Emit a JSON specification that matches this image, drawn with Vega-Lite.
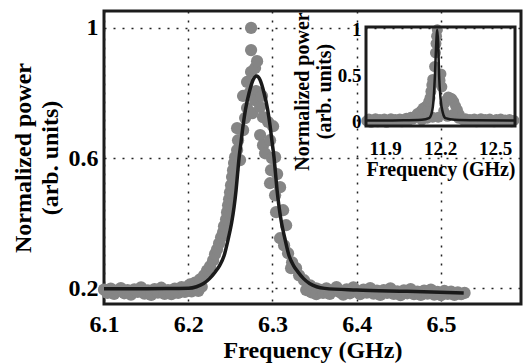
{
  "$schema": "https://vega.github.io/schema/vega-lite/v6.json",
  "width": 417,
  "height": 293,
  "autosize": {"type": "none"},
  "padding": {"left": 104, "top": 11, "right": 3, "bottom": 60},
  "background": "white",
  "config": {
    "view": {"stroke": "#1c1c1c", "strokeWidth": 3},
    "axis": {
      "labelFont": "Liberation Serif",
      "titleFont": "Liberation Serif",
      "labelFontWeight": "bold",
      "titleFontWeight": "bold",
      "labelColor": "#000000",
      "titleColor": "#000000",
      "domain": false,
      "ticks": false,
      "labelFlush": false,
      "labelOverlap": false,
      "grid": true,
      "gridDash": [2, 7],
      "gridColor": "#222222",
      "gridOpacity": 1,
      "gridWidth": 1.5
    }
  },
  "datasets": {
    "main_pts": [
      {"f": 6.100, "p": 0.196}, {"f": 6.104, "p": 0.186}, {"f": 6.108, "p": 0.199}, {"f": 6.112, "p": 0.183},
      {"f": 6.116, "p": 0.193}, {"f": 6.120, "p": 0.201}, {"f": 6.124, "p": 0.185}, {"f": 6.128, "p": 0.195},
      {"f": 6.132, "p": 0.181}, {"f": 6.136, "p": 0.197}, {"f": 6.140, "p": 0.189}, {"f": 6.144, "p": 0.203},
      {"f": 6.148, "p": 0.184}, {"f": 6.152, "p": 0.194}, {"f": 6.156, "p": 0.180}, {"f": 6.160, "p": 0.198},
      {"f": 6.164, "p": 0.187}, {"f": 6.168, "p": 0.202}, {"f": 6.172, "p": 0.183}, {"f": 6.176, "p": 0.195},
      {"f": 6.180, "p": 0.182}, {"f": 6.184, "p": 0.199}, {"f": 6.188, "p": 0.186}, {"f": 6.192, "p": 0.204},
      {"f": 6.196, "p": 0.189}, {"f": 6.200, "p": 0.207}, {"f": 6.204, "p": 0.191}, {"f": 6.208, "p": 0.200},
      {"f": 6.212, "p": 0.192}, {"f": 6.216, "p": 0.205},
      {"f": 6.2021, "p": 0.212}, {"f": 6.2081, "p": 0.218}, {"f": 6.214, "p": 0.228}, {"f": 6.2188, "p": 0.240},
      {"f": 6.2223, "p": 0.255}, {"f": 6.2259, "p": 0.268}, {"f": 6.2295, "p": 0.286}, {"f": 6.2318, "p": 0.305},
      {"f": 6.2342, "p": 0.320}, {"f": 6.2366, "p": 0.338}, {"f": 6.239, "p": 0.357}, {"f": 6.2413, "p": 0.372},
      {"f": 6.2425, "p": 0.391}, {"f": 6.2449, "p": 0.412}, {"f": 6.2461, "p": 0.434}, {"f": 6.2473, "p": 0.455},
      {"f": 6.2485, "p": 0.474}, {"f": 6.2496, "p": 0.495}, {"f": 6.2508, "p": 0.517}, {"f": 6.252, "p": 0.542},
      {"f": 6.2532, "p": 0.563}, {"f": 6.2544, "p": 0.585}, {"f": 6.2556, "p": 0.603}, {"f": 6.258, "p": 0.625},
      {"f": 6.2615, "p": 0.594}, {"f": 6.2591, "p": 0.655}, {"f": 6.258, "p": 0.692}, {"f": 6.2651, "p": 0.686},
      {"f": 6.2675, "p": 0.723}, {"f": 6.2651, "p": 0.791}, {"f": 6.2698, "p": 0.754}, {"f": 6.2734, "p": 0.803},
      {"f": 6.2698, "p": 0.834}, {"f": 6.2746, "p": 0.865}, {"f": 6.2793, "p": 0.877}, {"f": 6.2817, "p": 0.898},
      {"f": 6.2746, "p": 0.932}, {"f": 6.2746, "p": 1.0}, {"f": 6.2805, "p": 0.806}, {"f": 6.2793, "p": 0.778},
      {"f": 6.2758, "p": 0.738}, {"f": 6.2876, "p": 0.791}, {"f": 6.2853, "p": 0.757}, {"f": 6.2888, "p": 0.726},
      {"f": 6.2948, "p": 0.711}, {"f": 6.2853, "p": 0.671}, {"f": 6.2888, "p": 0.640}, {"f": 6.2971, "p": 0.655},
      {"f": 6.3007, "p": 0.698}, {"f": 6.2912, "p": 0.615}, {"f": 6.2995, "p": 0.600}, {"f": 6.3031, "p": 0.603},
      {"f": 6.2983, "p": 0.563}, {"f": 6.3055, "p": 0.551}, {"f": 6.2971, "p": 0.523}, {"f": 6.3031, "p": 0.486},
      {"f": 6.3090, "p": 0.511}, {"f": 6.3043, "p": 0.434}, {"f": 6.3126, "p": 0.440}, {"f": 6.3162, "p": 0.394},
      {"f": 6.3090, "p": 0.354}, {"f": 6.3138, "p": 0.332}, {"f": 6.3185, "p": 0.308}, {"f": 6.3233, "p": 0.280},
      {"f": 6.3221, "p": 0.262}, {"f": 6.328, "p": 0.262}, {"f": 6.3316, "p": 0.240}, {"f": 6.3375, "p": 0.225},
      {"f": 6.3447, "p": 0.209}, {"f": 6.3518, "p": 0.200},
      {"f": 6.340, "p": 0.195}, {"f": 6.346, "p": 0.188}, {"f": 6.352, "p": 0.182},
      {"f": 6.356, "p": 0.196}, {"f": 6.360, "p": 0.186}, {"f": 6.364, "p": 0.200}, {"f": 6.368, "p": 0.183},
      {"f": 6.372, "p": 0.192}, {"f": 6.376, "p": 0.204}, {"f": 6.380, "p": 0.188}, {"f": 6.384, "p": 0.181},
      {"f": 6.388, "p": 0.197}, {"f": 6.392, "p": 0.185}, {"f": 6.396, "p": 0.203}, {"f": 6.400, "p": 0.190},
      {"f": 6.404, "p": 0.182}, {"f": 6.408, "p": 0.196}, {"f": 6.412, "p": 0.187}, {"f": 6.416, "p": 0.201},
      {"f": 6.420, "p": 0.184}, {"f": 6.424, "p": 0.193}, {"f": 6.428, "p": 0.180}, {"f": 6.432, "p": 0.195},
      {"f": 6.436, "p": 0.186}, {"f": 6.440, "p": 0.200}, {"f": 6.444, "p": 0.183}, {"f": 6.448, "p": 0.191},
      {"f": 6.452, "p": 0.179}, {"f": 6.456, "p": 0.194}, {"f": 6.460, "p": 0.185}, {"f": 6.464, "p": 0.198},
      {"f": 6.468, "p": 0.182}, {"f": 6.472, "p": 0.190}, {"f": 6.476, "p": 0.180}, {"f": 6.480, "p": 0.193},
      {"f": 6.484, "p": 0.184}, {"f": 6.488, "p": 0.196}, {"f": 6.492, "p": 0.181}, {"f": 6.496, "p": 0.189},
      {"f": 6.500, "p": 0.179}, {"f": 6.504, "p": 0.192}, {"f": 6.508, "p": 0.183}, {"f": 6.512, "p": 0.190},
      {"f": 6.516, "p": 0.180}, {"f": 6.520, "p": 0.188}, {"f": 6.524, "p": 0.182}, {"f": 6.528, "p": 0.186}
    ],
    "main_fit": [
      {"f": 6.100, "p": 0.199}, {"f": 6.150, "p": 0.199}, {"f": 6.185, "p": 0.1995},
      {"f": 6.2003, "p": 0.200}, {"f": 6.2098, "p": 0.205}, {"f": 6.2182, "p": 0.215}, {"f": 6.2253, "p": 0.230},
      {"f": 6.2318, "p": 0.250}, {"f": 6.2372, "p": 0.270}, {"f": 6.2425, "p": 0.300}, {"f": 6.2473, "p": 0.350},
      {"f": 6.2514, "p": 0.400}, {"f": 6.2544, "p": 0.450}, {"f": 6.2567, "p": 0.500}, {"f": 6.2585, "p": 0.550},
      {"f": 6.2603, "p": 0.600}, {"f": 6.2627, "p": 0.650}, {"f": 6.2651, "p": 0.700}, {"f": 6.2680, "p": 0.750},
      {"f": 6.2722, "p": 0.800}, {"f": 6.2769, "p": 0.840}, {"f": 6.2811, "p": 0.852},
      {"f": 6.2853, "p": 0.840}, {"f": 6.2900, "p": 0.800}, {"f": 6.2942, "p": 0.750}, {"f": 6.2971, "p": 0.700},
      {"f": 6.2995, "p": 0.650}, {"f": 6.3019, "p": 0.600}, {"f": 6.3037, "p": 0.550}, {"f": 6.3055, "p": 0.500},
      {"f": 6.3078, "p": 0.450}, {"f": 6.3108, "p": 0.400}, {"f": 6.3150, "p": 0.350}, {"f": 6.3197, "p": 0.300},
      {"f": 6.3250, "p": 0.270}, {"f": 6.3304, "p": 0.250}, {"f": 6.3369, "p": 0.230}, {"f": 6.3440, "p": 0.215},
      {"f": 6.3524, "p": 0.205}, {"f": 6.3619, "p": 0.200}, {"f": 6.400, "p": 0.195}, {"f": 6.460, "p": 0.191},
      {"f": 6.527, "p": 0.186}
    ],
    "inset_pts": [
      {"f": 11.800, "p": 0.010}, {"f": 11.812, "p": 0.030}, {"f": 11.824, "p": -0.005}, {"f": 11.836, "p": 0.020},
      {"f": 11.848, "p": 0.035}, {"f": 11.860, "p": 0.000}, {"f": 11.872, "p": 0.025}, {"f": 11.884, "p": 0.010},
      {"f": 11.896, "p": 0.030}, {"f": 11.908, "p": -0.005}, {"f": 11.920, "p": 0.020}, {"f": 11.932, "p": 0.035},
      {"f": 11.944, "p": 0.005}, {"f": 11.956, "p": 0.025}, {"f": 11.968, "p": 0.010}, {"f": 11.980, "p": 0.030},
      {"f": 11.992, "p": 0.000}, {"f": 12.004, "p": 0.025}, {"f": 12.016, "p": 0.040}, {"f": 12.028, "p": 0.015},
      {"f": 12.040, "p": 0.050}, {"f": 12.052, "p": 0.030}, {"f": 12.064, "p": 0.060}, {"f": 12.076, "p": 0.090},
      {"f": 12.088, "p": 0.050}, {"f": 12.096, "p": 0.120}, {"f": 12.108, "p": 0.150}, {"f": 12.116, "p": 0.100},
      {"f": 12.124, "p": 0.170}, {"f": 12.132, "p": 0.130}, {"f": 12.138, "p": 0.220}, {"f": 12.145, "p": 0.260},
      {"f": 12.150, "p": 0.330}, {"f": 12.155, "p": 0.400}, {"f": 12.160, "p": 0.460}, {"f": 12.100, "p": 0.020},
      {"f": 12.130, "p": 0.040}, {"f": 12.160, "p": 0.050}, {"f": 12.170, "p": 0.600}, {"f": 12.175, "p": 0.750},
      {"f": 12.178, "p": 0.850}, {"f": 12.181, "p": 0.930}, {"f": 12.185, "p": 1.000}, {"f": 12.190, "p": 0.050},
      {"f": 12.200, "p": 0.450}, {"f": 12.205, "p": 0.520}, {"f": 12.210, "p": 0.380}, {"f": 12.220, "p": 0.120},
      {"f": 12.225, "p": 0.200}, {"f": 12.235, "p": 0.240}, {"f": 12.245, "p": 0.270}, {"f": 12.255, "p": 0.260},
      {"f": 12.265, "p": 0.250}, {"f": 12.275, "p": 0.220}, {"f": 12.285, "p": 0.170}, {"f": 12.295, "p": 0.130},
      {"f": 12.305, "p": 0.080}, {"f": 12.240, "p": 0.060}, {"f": 12.270, "p": 0.080}, {"f": 12.300, "p": 0.040},
      {"f": 12.315, "p": 0.040}, {"f": 12.327, "p": 0.020}, {"f": 12.339, "p": 0.035}, {"f": 12.351, "p": 0.005},
      {"f": 12.363, "p": 0.025}, {"f": 12.375, "p": 0.015}, {"f": 12.387, "p": 0.030}, {"f": 12.399, "p": 0.000},
      {"f": 12.411, "p": 0.020}, {"f": 12.423, "p": 0.035}, {"f": 12.435, "p": 0.010}, {"f": 12.447, "p": 0.025},
      {"f": 12.459, "p": 0.005}, {"f": 12.471, "p": 0.030}, {"f": 12.483, "p": 0.015}, {"f": 12.495, "p": 0.000},
      {"f": 12.507, "p": 0.025}, {"f": 12.519, "p": 0.010}, {"f": 12.531, "p": 0.030}, {"f": 12.543, "p": 0.005},
      {"f": 12.555, "p": 0.020}, {"f": 12.567, "p": 0.010}, {"f": 12.579, "p": 0.025}, {"f": 12.591, "p": 0.000},
      {"f": 12.603, "p": 0.015}
    ],
    "inset_fit": [
      {"f": 11.796, "p": 0.015}, {"f": 12.0, "p": 0.017}, {"f": 12.1, "p": 0.022}, {"f": 12.14, "p": 0.04},
      {"f": 12.155, "p": 0.1}, {"f": 12.165, "p": 0.25}, {"f": 12.172, "p": 0.5}, {"f": 12.178, "p": 0.8},
      {"f": 12.185, "p": 1.0}, {"f": 12.19, "p": 0.85}, {"f": 12.195, "p": 0.5}, {"f": 12.203, "p": 0.25},
      {"f": 12.215, "p": 0.1}, {"f": 12.23, "p": 0.04}, {"f": 12.28, "p": 0.022}, {"f": 12.4, "p": 0.017},
      {"f": 12.609, "p": 0.015}
    ]
  },
  "layer": [
    {
      "layer": [
        {
          "data": {"name": "main_pts"},
          "mark": {"type": "point", "filled": true, "shape": "circle", "size": 150, "color": "#858585", "opacity": 1},
          "encoding": {
            "x": {"field": "f", "type": "quantitative", "scale": {"domain": [6.1, 6.595], "nice": false, "zero": false},
              "axis": {"orient": "bottom", "values": [6.1, 6.2, 6.3, 6.4, 6.5], "format": ".1f", "title": "Frequency (GHz)",
                "labelFontSize": 24, "titleFontSize": 24, "labelPadding": 8, "titlePadding": 2}},
            "y": {"field": "p", "type": "quantitative", "scale": {"domain": [0.152, 1.052], "nice": false, "zero": false},
              "axis": {"orient": "left", "values": [0.2, 0.6, 1], "format": "~g", "title": ["Normalized power", "(arb. units)"],
                "labelFontSize": 24, "titleFontSize": 24, "labelPadding": 6, "titlePadding": 6, "titleLineHeight": 27}}
          }
        },
        {
          "data": {"name": "main_fit"},
          "mark": {"type": "line", "color": "#1a1a1a", "strokeWidth": 3.5, "interpolate": "monotone"},
          "encoding": {
            "x": {"field": "f", "type": "quantitative"},
            "y": {"field": "p", "type": "quantitative"}
          }
        }
      ]
    },
    {
      "layer": [
        {
          "data": {"name": "inset_pts"},
          "mark": {"type": "point", "filled": true, "shape": "circle", "size": 120, "color": "#858585", "opacity": 1},
          "encoding": {
            "x": {"field": "f", "type": "quantitative", "scale": {"domain": [11.796, 12.609], "range": [262, 411], "nice": false, "zero": false},
              "axis": {"orient": "bottom", "offset": -178, "values": [11.9, 12.2, 12.5], "format": ".1f", "title": "Frequency (GHz)",
                "labelFontSize": 19, "titleFontSize": 20, "labelPadding": 13, "titlePadding": 1}},
            "y": {"field": "p", "type": "quantitative", "scale": {"domain": [-0.045, 1.03], "range": [115, 16], "nice": false, "zero": false},
              "axis": {"orient": "left", "offset": -262, "values": [0, 0.5, 1], "format": "~g", "title": ["Normalized power", "(arb. units)"],
                "labelFontSize": 19, "titleFontSize": 20, "labelPadding": 5, "titlePadding": 3, "titleLineHeight": 22, "titleY": 80}}
          }
        },
        {
          "data": {"name": "inset_fit"},
          "mark": {"type": "line", "color": "#1a1a1a", "strokeWidth": 2.5, "interpolate": "monotone"},
          "encoding": {
            "x": {"field": "f", "type": "quantitative"},
            "y": {"field": "p", "type": "quantitative"}
          }
        },
        {
          "data": {"values": [{}]},
          "mark": {"type": "rect", "fill": "transparent", "stroke": "#1c1c1c", "strokeWidth": 3},
          "encoding": {
            "x": {"datum": 11.796, "type": "quantitative"},
            "x2": {"datum": 12.609},
            "y": {"datum": -0.045, "type": "quantitative"},
            "y2": {"datum": 1.03}
          }
        }
      ]
    }
  ],
  "resolve": {
    "scale": {"x": "independent", "y": "independent"},
    "axis": {"x": "independent", "y": "independent"}
  }
}
